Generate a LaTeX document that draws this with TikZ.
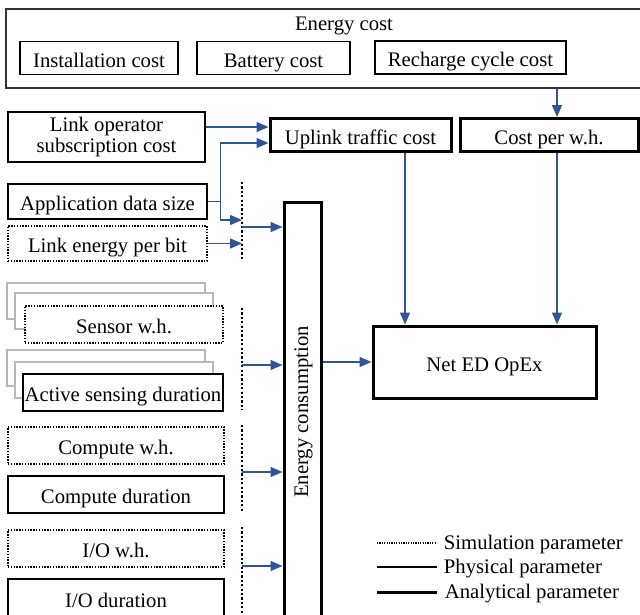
\documentclass[tikz,border=0pt]{standalone}
\usepackage{fontspec}
\setmainfont{Liberation Serif}
\usetikzlibrary{arrows.meta}
\definecolor{arrowblue}{HTML}{2F5597}

\begin{document}
\begin{tikzpicture}[x=1pt, y=-1pt, font=\fontsize{20.7}{24}\selectfont,
    box/.style={draw, rectangle, inner sep=0pt, fill=white, text height=19.5pt, text depth=1pt},
    phys/.style={box, line width=1.3pt},
    sim/.style={box, line width=1.3pt, dash pattern=on 1.4pt off 1.4pt},
    ana/.style={box, line width=3pt},
    ghost/.style={draw=black!28, rectangle, line width=1.3pt, fill=white, minimum width=198, minimum height=36},
    bar/.style={line width=2.6pt, dash pattern=on 2.2pt off 2.2pt},
    n/.style={-{Triangle[length=12pt, width=10pt]}, draw=arrowblue, line width=1.5pt}]
    \useasboundingbox (0,0) rectangle (640,614);
    % nodes
    \node[phys, draw=black!80, minimum width=640, minimum height=79] (ecost) at (326,48.5) {};
    \node (ectitle) at (344,25.5) {Energy cost};
    \node[phys, minimum width=158, minimum height=33] (install) at (99,58) {Installation cost};
    \node[phys, minimum width=153, minimum height=33] (battery) at (273.5,58) {Battery cost};
    \node[phys, minimum width=191, minimum height=33] (recharge) at (470.5,57.5) {Recharge cycle cost};
    \node[phys, text height={}, text depth={}, minimum width=197, minimum height=50, align=center] (linkop) at (106.5,137) {Link operator\\[-3pt]subscription cost};
    \node[ana, minimum width=181, minimum height=33] (uplink) at (360.5,135) {Uplink traffic cost};
    \node[ana, minimum width=178, minimum height=33] (costwh) at (549,135) {Cost per w.h.};
    \node[phys, minimum width=199, minimum height=35] (appdata) at (107.5,201.5) {Application data size};
    \node[sim, minimum width=199, minimum height=35] (linkenergy) at (107.5,243.5) {Link energy per bit};
    \node[ghost] (sensorg1) at (106,301) {};
    \node[ghost] (sensorg2) at (114,311) {};
    \node[sim, minimum width=198, minimum height=37] (sensorwh) at (124,324.5) {Sensor w.h.};
    \node[ghost] (activeg1) at (106,368) {};
    \node[ghost] (activeg2) at (114,380) {};
    \node[phys, minimum width=200, minimum height=37] (activedur) at (123,392.5) {Active sensing duration};
    \node[sim, minimum width=216, minimum height=37] (computewh) at (116,445.5) {Compute w.h.};
    \node[phys, minimum width=216, minimum height=37] (computedur) at (116,494.5) {Compute duration};
    \node[sim, minimum width=216, minimum height=37] (iowh) at (116,548.5) {I/O w.h.};
    \node[phys, minimum width=216, minimum height=38] (iodur) at (116,598) {I/O duration};
    \node[ana, minimum width=37, minimum height=428] (energy) at (302.5,416) {};
    \node[rotate=90] (energytxt) at (303.5,412) {Energy consumption};
    \node[ana, minimum width=223, minimum height=72] (netopex) at (484.5,362) {Net ED OpEx};
    % bars
    \coordinate (b1) at (242,227);
    \coordinate (b1in) at (242,220);
    \coordinate (b2) at (242,365);
    \coordinate (b3) at (242,472);
    \coordinate (b4) at (242,566);
    \draw[bar] (242,182) -- (242,260);
    \draw[bar] (242,308) -- (242,410);
    \draw[bar] (242,425) -- (242,512);
    \draw[bar] (242,527) -- (242,614);
    % edges
    \draw[n] ([xshift=8]costwh.north |- ecost.south) -- ([xshift=8]costwh.north);
    \draw[n] ([yshift=10]linkop.east) -- ([yshift=10]linkop.east -| uplink.west);
    \draw[n] (appdata.east) -- ++(13,0) |- ([yshift=-8]uplink.west);
    \draw[n] (appdata.east) -- ++(13,0) |- (b1in);
    \draw[n] (linkenergy.east) -- (linkenergy.east -| b1);
    \draw[n] (b1) -- (b1 -| energy.west);
    \draw[n] (b2) -- (b2 -| energy.west);
    \draw[n] (b3) -- (b3 -| energy.west);
    \draw[n] (b4) -- (b4 -| energy.west);
    \draw[n] (energy.east |- netopex.west) -- (netopex.west);
    \draw[n] ([xshift=44.5]uplink.south) -- ([xshift=44.5]uplink.south |- netopex.north);
    \draw[n] ([xshift=8]costwh.south) -- ([xshift=8]costwh.south |- netopex.north);
    % legend
    \coordinate (lg1) at (377,543);
    \coordinate (lg2) at (377,567);
    \coordinate (lg3) at (377,592);
    \draw[line width=1.2pt, dash pattern=on 1.2pt off 1.2pt] (lg1) -- ++(60,0) node[right=3pt, yshift=-1.5pt] (lgsim) {Simulation parameter};
    \draw[line width=1.3pt] (lg2) -- ++(60,0) node[right=3pt, yshift=-1.5pt] (lgphys) {Physical parameter};
    \draw[line width=3pt] (lg3) -- ++(60,0) node[right=3pt, yshift=-1.5pt] (lgana) {Analytical parameter};
\end{tikzpicture}
\end{document}
